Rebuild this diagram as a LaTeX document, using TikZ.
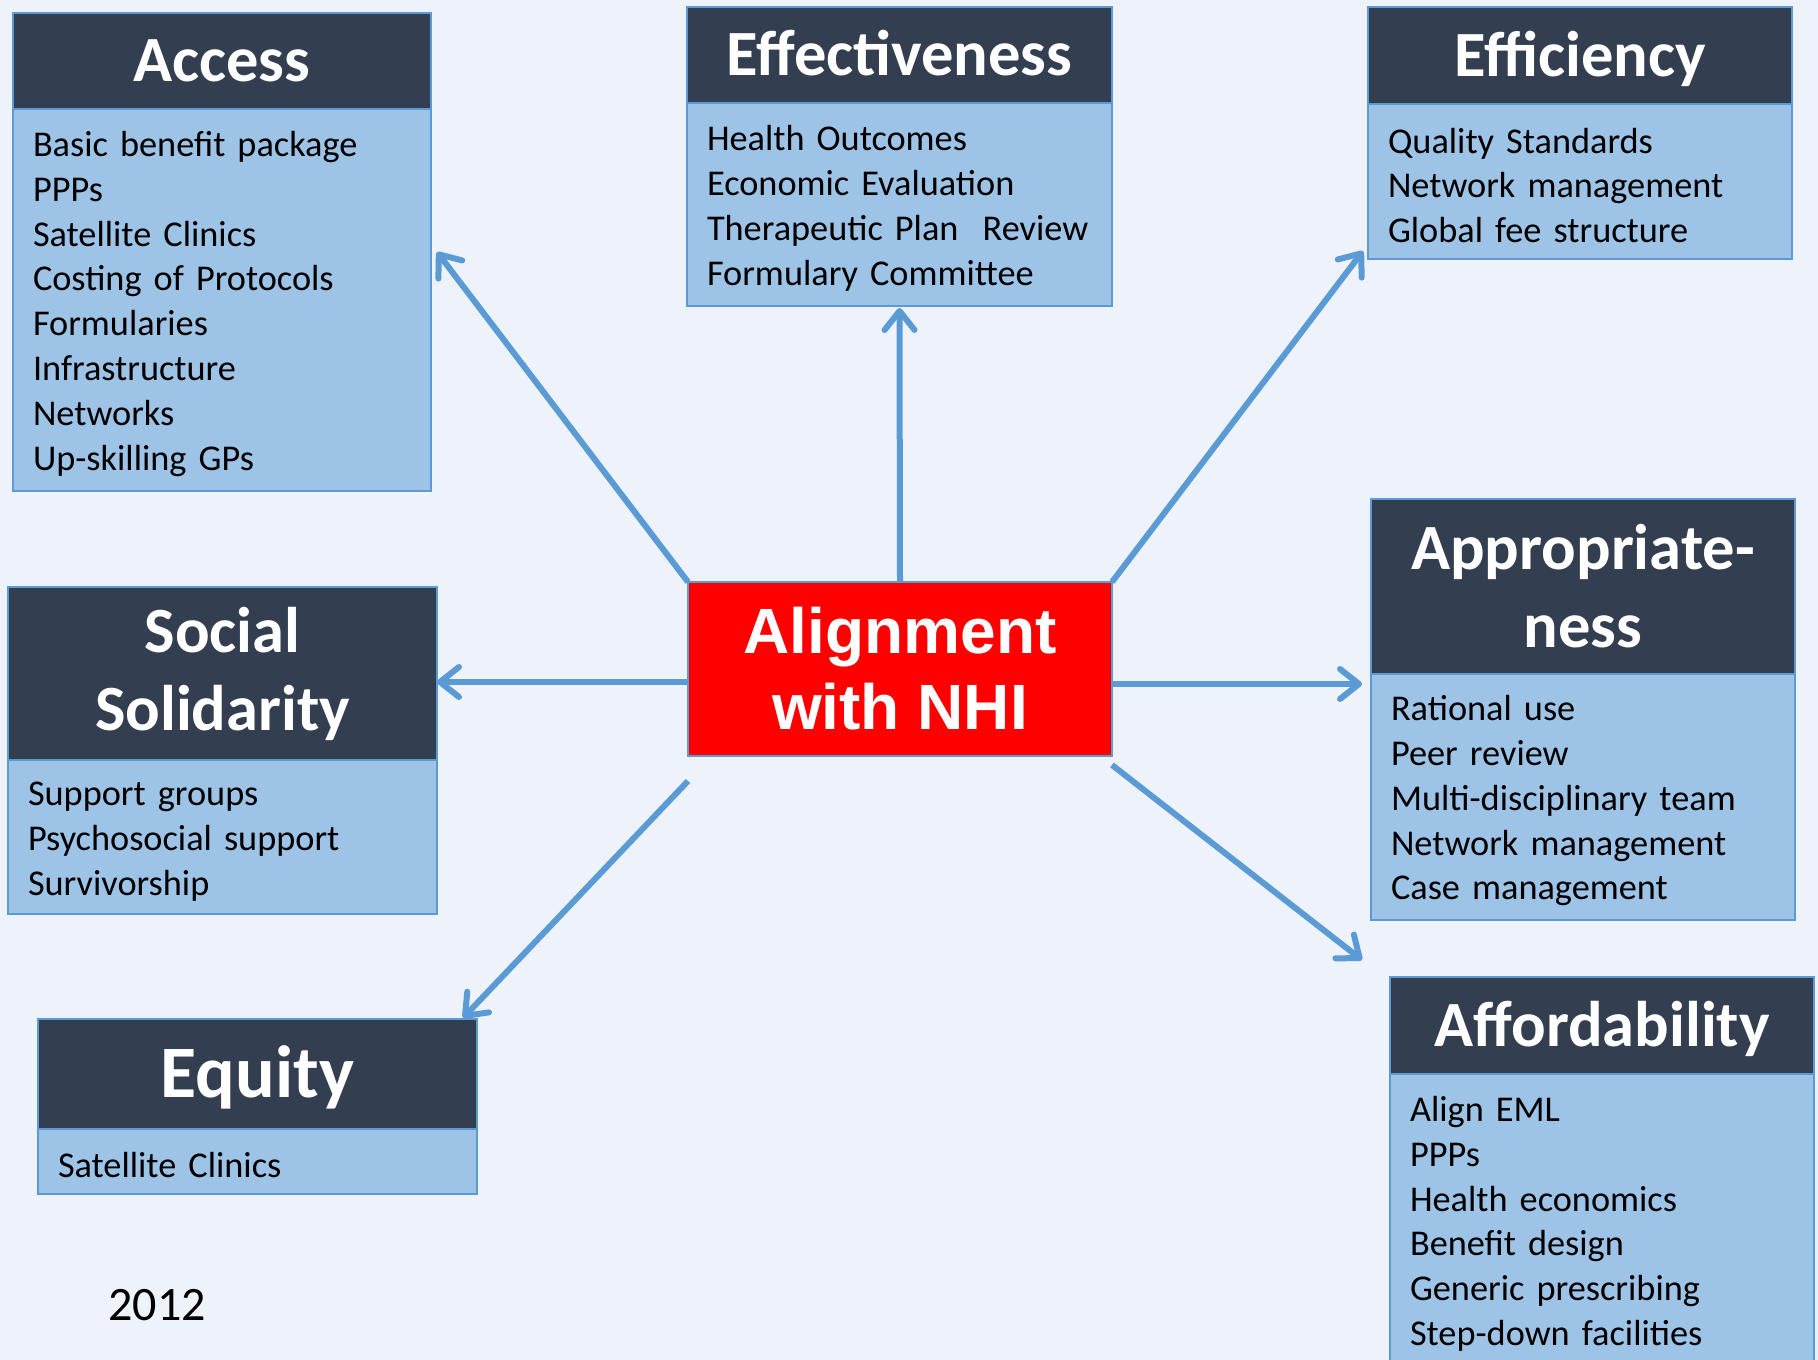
\documentclass[tikz,border=0pt]{standalone}
\usepackage{fontspec}
\setmainfont{Carlito}
\newfontfamily\arialfont{Liberation Sans}
\usetikzlibrary{arrows.meta}
\definecolor{boxline}{HTML}{5B9BD5}
\definecolor{headfill}{HTML}{333F50}
\definecolor{itemfill}{HTML}{9DC3E6}
\definecolor{slide}{HTML}{EEF2FB}
\tikzstyle{head} = [draw=boxline, line width=2pt, fill=headfill, text=white, anchor=north west,
  inner sep=0pt, outer sep=0pt, align=center, font=\fontsize{64.5}{78}\selectfont\bfseries]
\tikzstyle{items} = [draw=boxline, line width=2pt, fill=itemfill, anchor=north west,
  inner xsep=20pt, inner ysep=0pt, outer sep=0pt, align=left,
  font=\fontsize{36.3}{44.8}\selectfont, execute at begin node={\rule{0pt}{33pt}}]
\tikzstyle{hub} = [draw=boxline, line width=2pt, fill=red, text=white, anchor=north west,
  inner sep=0pt, outer sep=0pt, align=center, minimum width=424pt, minimum height=174pt,
  font=\arialfont\bfseries\fontsize{64}{76}\selectfont]
\tikzstyle{line} = [draw=boxline, line width=6pt, -{Straight Barb[length=19pt,width=30pt,round]}]

\begin{document}
\begin{tikzpicture}[x=1pt,y=1pt]
  \useasboundingbox (0,0) rectangle (1818,-1360);
  \clip (0,0) rectangle (1818,-1360);
  \fill[slide] (0,0) rectangle (1818,-1360);

  % centre
  \node[hub] (nhi) at (688,-582) {Alignment\\with NHI};

  % top row
  \node[head, minimum width=418pt, minimum height=96pt, text height=41pt, text depth=0pt] (access) at (13,-13) {Access};
  \node[items, text width=378pt, minimum height=382pt] (accessl) at (access.south west)
    {Basic benefit package\\PPPs\\Satellite Clinics\\Costing of Protocols\\Formularies\\Infrastructure\\Networks\\Up-skilling GPs};

  \node[head, minimum width=425pt, minimum height=96pt, text height=41pt, text depth=0pt] (eff) at (687,-7) {Effectiveness};
  \node[items, text width=385pt, minimum height=203pt] (effl) at (eff.south west)
    {Health Outcomes\\Economic Evaluation\\Therapeutic Plan\ \ Review\\Formulary Committee};

  \node[head, minimum width=424pt, minimum height=97pt, text height=41pt, text depth=0pt] (effic) at (1368,-7) {Efficiency};
  \node[items, text width=384pt, minimum height=155pt] (efficl) at (effic.south west)
    {Quality Standards\\Network management\\Global fee structure};

  % middle row
  \node[head, minimum width=429pt, minimum height=173pt] (social) at (8,-587) {Social\\Solidarity};
  \node[items, text width=389pt, minimum height=154pt] (sociall) at (social.south west)
    {Support groups\\Psychosocial support\\Survivorship};

  \node[head, minimum width=424pt, minimum height=175pt] (approp) at (1371,-499) {Appropriate-\\ness};
  \node[items, text width=384pt, minimum height=246pt] (appropl) at (approp.south west)
    {Rational use\\Peer review\\Multi-disciplinary team\\Network management\\Case management};

  % bottom row
  \node[head, minimum width=439pt, minimum height=110pt, font=\fontsize{74}{86}\selectfont\bfseries,
    text height=47pt, text depth=0pt] (equity) at (38,-1019) {Equity};
  \node[items, text width=399pt, minimum height=65pt] (equityl) at (equity.south west)
    {Satellite Clinics};

  \node[head, minimum width=424pt, minimum height=97pt, text height=41pt, text depth=0pt] (afford) at (1390,-977) {Affordability};
  \node[items, text width=384pt, minimum height=292pt] (affordl) at (afford.south west)
    {Align EML\\PPPs\\Health economics\\Benefit design\\Generic prescribing\\Step-down facilities};

  \node[font=\fontsize{48}{56}\selectfont] (year) at (157,-1305) {2012};

  % arrow ends
  \coordinate (accessin) at ([shift={(6,48)}]accessl.east);
  \coordinate (effin) at ([yshift=-2]effl.south);
  \coordinate (efficin) at ([shift={(-5,8)}]efficl.south west);
  \coordinate (socialout) at ([yshift=-13]nhi.west);
  \coordinate (socialin) at (socialout -| social.east);
  \coordinate (appropout) at ([yshift=-15]nhi.east);
  \coordinate (appropin) at ([xshift=-9]appropout -| approp.west);
  \coordinate (affordout) at ([yshift=-9]nhi.south east);
  \coordinate (affordin) at ([shift={(-28,17)}]afford.north west);
  \coordinate (equityout) at ([yshift=-25]nhi.south west);
  \coordinate (equityin) at ([shift={(-14,1)}]equity.north east);

  \path [line] (nhi.north west) -- (accessin);
  \path [line] (nhi.north) -- (effin);
  \path [line] (nhi.north east) -- (efficin);
  \path [line] (socialout) -- (socialin);
  \path [line] (appropout) -- (appropin);
  \path [line] (affordout) -- (affordin);
  \path [line] (equityout) -- (equityin);
\end{tikzpicture}
\end{document}
